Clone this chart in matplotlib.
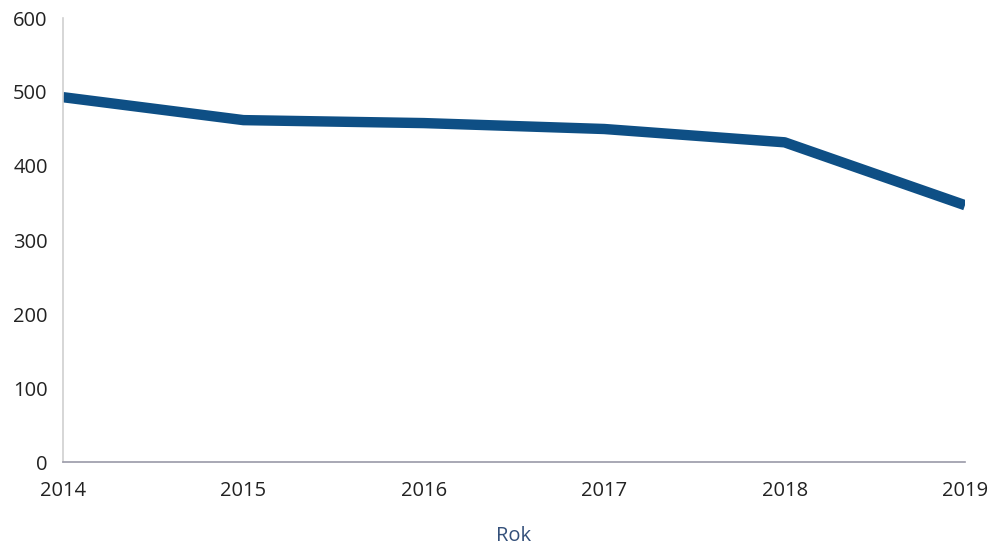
import matplotlib.pyplot as plt

# Data
years = [2014, 2015, 2016, 2017, 2018, 2019]
values = [493, 462, 458, 450, 432, 347]
y_ticks = [0, 100, 200, 300, 400, 500, 600]

plt.rcParams['font.family'] = ['Open Sans', 'DejaVu Sans']

fig = plt.figure(figsize=(9.9, 5.48), dpi=100)
ax = fig.add_axes([63 / 990, 1 - 462 / 548, (965 - 63) / 990, (462 - 18) / 548])

ax.plot(years, values, color='#0e4f85', linewidth=7.5, solid_capstyle='butt',
        solid_joinstyle='round')

ax.set_xlim(2014, 2019)
ax.set_ylim(0, 600)
ax.set_xticks(years)
ax.set_yticks(y_ticks)

ax.tick_params(axis='both', length=0, labelsize=14.5, colors='#222222')
ax.tick_params(axis='y', pad=11)
ax.tick_params(axis='x', pad=14)

for side in ['top', 'right']:
    ax.spines[side].set_visible(False)
ax.spines['left'].set_color('#d0d0d0')
ax.spines['left'].set_linewidth(1.2)
ax.spines['bottom'].set_color('#9a9aa8')
ax.spines['bottom'].set_linewidth(1.2)

ax.set_xlabel('Rok', fontsize=14.5, color='#34507a', labelpad=18)

fig.savefig('out.png', dpi=100)
